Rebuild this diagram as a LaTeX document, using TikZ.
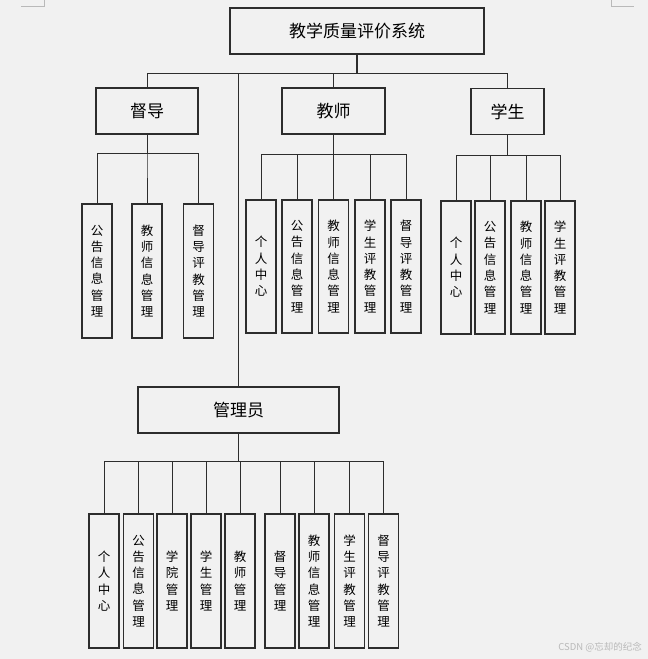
\documentclass[tikz,border=0pt]{standalone}
\usepackage{fontspec}
\setmainfont{Noto Sans CJK SC}
\usetikzlibrary{calc}

\definecolor{bgcol}{RGB}{241,241,241}
\definecolor{linecol}{RGB}{45,45,45}
\definecolor{markcol}{RGB}{185,185,185}

\begin{document}
\begin{tikzpicture}[x=1pt, y=-1pt,
    box/.style={draw=linecol, line width=1.2pt, fill=bgcol, inner sep=0pt,
        minimum height=46pt, font=\fontsize{17}{17}\selectfont},
    leaf/.style={draw=linecol, line width=1.2pt, fill=bgcol, inner sep=0pt,
        minimum width=30pt, minimum height=134pt, align=center,
        font=\fontsize{12.5}{16.3}\selectfont},
    link/.style={draw=linecol, line width=1pt}]

    % page
    \fill[bgcol] (0,0) rectangle (648,659);
    \useasboundingbox (0,0) rectangle (648,659);
    \draw[markcol, line width=0.8pt] (21,6) -- (44,6) -- (44,0);
    \draw[markcol, line width=0.8pt] (611,0) -- (611,6) -- (634,6);

    % top level
    \node[box, minimum width=254pt] (sys) at (357,31) {教学质量评价系统};
    \node[box, minimum width=102pt] (dd) at (147,111) {督导};
    \node[box, minimum width=103pt] (js) at (333.5,111) {教师};
    \node[box, minimum width=73pt] (xs) at (507.5,111.5) {学生};
    \node[box, minimum width=201pt] (gly) at (238.5,410) {管理员};

    \foreach \r in {dd,js,xs,gly}
        \draw[link] (sys.south) -- ++(0,19) -| (\r.north);
    \draw[linecol, line width=2pt] (sys.south) -- ++(0,19);

    % 督导
    \foreach \x/\t [count=\i] in {97/公\\告\\信\\息\\管\\理,
                                  147/教\\师\\信\\息\\管\\理,
                                  198.5/督\\导\\评\\教\\管\\理} {
        \node[leaf] (dd\i) at (\x,271) {\t};
        \draw[link] (dd.south) -- ++(0,19) -| (dd\i.north);
    }

    % 教师
    \foreach \x/\t [count=\i] in {261/个\\人\\中\\心,
                                  297/公\\告\\信\\息\\管\\理,
                                  333.5/教\\师\\信\\息\\管\\理,
                                  370/学\\生\\评\\教\\管\\理,
                                  406/督\\导\\评\\教\\管\\理} {
        \node[leaf, minimum height=133pt] (js\i) at (\x,266.5) {\t};
        \draw[link] (js.south) -- ++(0,20) -| (js\i.north);
    }

    % 学生
    \foreach \x/\t [count=\i] in {456/个\\人\\中\\心,
                                  490/公\\告\\信\\息\\管\\理,
                                  526/教\\师\\信\\息\\管\\理,
                                  560/学\\生\\评\\教\\管\\理} {
        \node[leaf, minimum height=133pt] (xs\i) at (\x,267.5) {\t};
        \draw[link] (xs.south) -- ++(0,20) -| (xs\i.north);
    }

    % 管理员
    \foreach \x/\t [count=\i] in {104/个\\人\\中\\心,
                                  138.5/公\\告\\信\\息\\管\\理,
                                  172/学\\院\\管\\理,
                                  206/学\\生\\管\\理,
                                  240/教\\师\\管\\理,
                                  280/督\\导\\管\\理,
                                  314/教\\师\\信\\息\\管\\理,
                                  349.5/学\\生\\评\\教\\管\\理,
                                  383.5/督\\导\\评\\教\\管\\理} {
        \node[leaf] (gly\i) at (\x,581) {\t};
        \draw[link] (gly.south) -- ++(0,28) -| (gly\i.north);
    }

    \node[anchor=east, text=markcol, inner sep=0pt,
        font=\fontsize{9.5}{10}\selectfont] (wm) at (642,647) {CSDN @忘却的纪念};
\end{tikzpicture}
\end{document}
